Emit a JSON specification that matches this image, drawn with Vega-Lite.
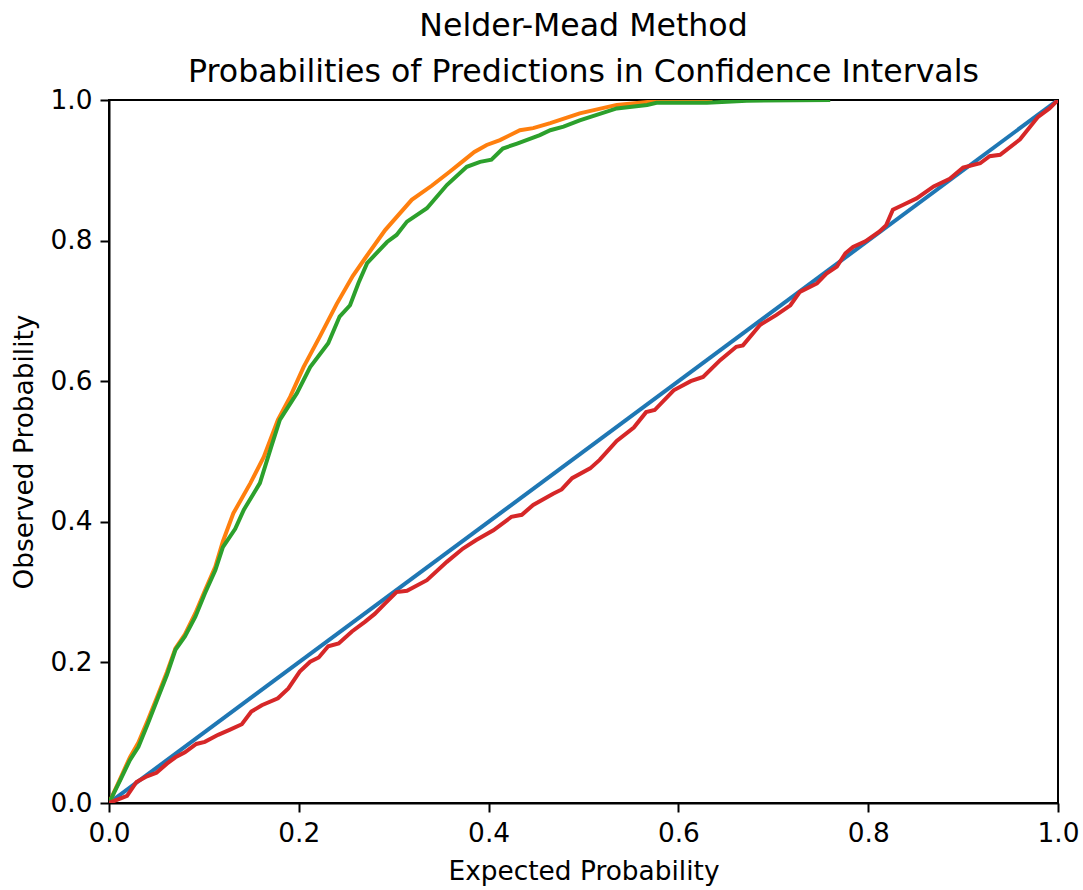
{
  "$schema": "https://vega.github.io/schema/vega-lite/v6.json",
  "autosize": {"type": "none"},
  "width": 949,
  "height": 703,
  "padding": {"left": 109, "top": 100, "right": 25, "bottom": 87},
  "background": "white",
  "config": {
    "font": "DejaVu Sans",
    "view": {"stroke": "black", "strokeWidth": 2},
    "axis": {
      "grid": false,
      "domainColor": "black",
      "domainWidth": 2,
      "tickColor": "black",
      "tickWidth": 2,
      "tickSize": 9,
      "labelPadding": 8,
      "labelFont": "DejaVu Sans",
      "labelFontSize": 26.4,
      "labelColor": "black",
      "labelFlush": false,
      "labelOverlap": false,
      "titleFont": "DejaVu Sans",
      "titleFontSize": 26.4,
      "titleFontWeight": "normal",
      "titleColor": "black"
    }
  },
  "title": {
    "text": ["Nelder-Mead Method", "Probabilities of Predictions in Confidence Intervals"],
    "font": "DejaVu Sans",
    "fontSize": 31.6,
    "fontWeight": "normal",
    "color": "black",
    "lineHeight": 46,
    "anchor": "middle",
    "baseline": "alphabetic",
    "offset": 18,
    "dy": 45
  },
  "datasets": {
    "blue": [{"x": 0, "y": 0}, {"x": 1, "y": 1}],
    "orange": [
      {"x": 0, "y": 0}, {"x": 0.012, "y": 0.035}, {"x": 0.022, "y": 0.065}, {"x": 0.031, "y": 0.086},
      {"x": 0.041, "y": 0.118}, {"x": 0.052, "y": 0.155}, {"x": 0.061, "y": 0.186}, {"x": 0.07, "y": 0.22},
      {"x": 0.08, "y": 0.24}, {"x": 0.091, "y": 0.27}, {"x": 0.101, "y": 0.302}, {"x": 0.112, "y": 0.336},
      {"x": 0.12, "y": 0.372}, {"x": 0.131, "y": 0.412}, {"x": 0.149, "y": 0.455}, {"x": 0.163, "y": 0.492},
      {"x": 0.178, "y": 0.545}, {"x": 0.191, "y": 0.578}, {"x": 0.205, "y": 0.62}, {"x": 0.222, "y": 0.663},
      {"x": 0.24, "y": 0.71}, {"x": 0.257, "y": 0.75}, {"x": 0.271, "y": 0.777}, {"x": 0.291, "y": 0.815},
      {"x": 0.319, "y": 0.858}, {"x": 0.34, "y": 0.878}, {"x": 0.359, "y": 0.898}, {"x": 0.372, "y": 0.912},
      {"x": 0.385, "y": 0.926}, {"x": 0.398, "y": 0.936}, {"x": 0.412, "y": 0.943}, {"x": 0.433, "y": 0.957},
      {"x": 0.447, "y": 0.96}, {"x": 0.465, "y": 0.967}, {"x": 0.496, "y": 0.981}, {"x": 0.535, "y": 0.993},
      {"x": 0.574, "y": 0.998}, {"x": 0.636, "y": 1.0}
    ],
    "green": [
      {"x": 0, "y": 0}, {"x": 0.012, "y": 0.033}, {"x": 0.022, "y": 0.061}, {"x": 0.031, "y": 0.08},
      {"x": 0.041, "y": 0.113}, {"x": 0.052, "y": 0.151}, {"x": 0.061, "y": 0.182}, {"x": 0.07, "y": 0.218},
      {"x": 0.08, "y": 0.237}, {"x": 0.091, "y": 0.265}, {"x": 0.101, "y": 0.298}, {"x": 0.112, "y": 0.331},
      {"x": 0.12, "y": 0.364}, {"x": 0.133, "y": 0.39}, {"x": 0.142, "y": 0.417}, {"x": 0.159, "y": 0.455},
      {"x": 0.171, "y": 0.507}, {"x": 0.18, "y": 0.545}, {"x": 0.198, "y": 0.583}, {"x": 0.212, "y": 0.62},
      {"x": 0.231, "y": 0.654}, {"x": 0.243, "y": 0.692}, {"x": 0.254, "y": 0.708}, {"x": 0.263, "y": 0.74},
      {"x": 0.272, "y": 0.768}, {"x": 0.293, "y": 0.798}, {"x": 0.303, "y": 0.808}, {"x": 0.314, "y": 0.827},
      {"x": 0.335, "y": 0.846}, {"x": 0.356, "y": 0.879}, {"x": 0.377, "y": 0.905}, {"x": 0.391, "y": 0.912},
      {"x": 0.403, "y": 0.915}, {"x": 0.415, "y": 0.931}, {"x": 0.43, "y": 0.938}, {"x": 0.454, "y": 0.95},
      {"x": 0.465, "y": 0.957}, {"x": 0.479, "y": 0.962}, {"x": 0.496, "y": 0.971}, {"x": 0.535, "y": 0.988},
      {"x": 0.567, "y": 0.993}, {"x": 0.577, "y": 0.996}, {"x": 0.63, "y": 0.996}, {"x": 0.672, "y": 0.999},
      {"x": 0.76, "y": 1.0}
    ],
    "red": [
      {"x": 0, "y": 0}, {"x": 0.019, "y": 0.01}, {"x": 0.029, "y": 0.03}, {"x": 0.04, "y": 0.038},
      {"x": 0.05, "y": 0.043}, {"x": 0.061, "y": 0.056}, {"x": 0.07, "y": 0.065}, {"x": 0.08, "y": 0.072},
      {"x": 0.092, "y": 0.084}, {"x": 0.101, "y": 0.087}, {"x": 0.115, "y": 0.097}, {"x": 0.127, "y": 0.104},
      {"x": 0.14, "y": 0.112}, {"x": 0.15, "y": 0.13}, {"x": 0.161, "y": 0.139}, {"x": 0.178, "y": 0.149},
      {"x": 0.189, "y": 0.163}, {"x": 0.201, "y": 0.187}, {"x": 0.212, "y": 0.201}, {"x": 0.221, "y": 0.207},
      {"x": 0.231, "y": 0.223}, {"x": 0.242, "y": 0.227}, {"x": 0.256, "y": 0.244}, {"x": 0.27, "y": 0.258},
      {"x": 0.28, "y": 0.269}, {"x": 0.291, "y": 0.284}, {"x": 0.303, "y": 0.3}, {"x": 0.314, "y": 0.302},
      {"x": 0.335, "y": 0.317}, {"x": 0.356, "y": 0.343}, {"x": 0.373, "y": 0.362}, {"x": 0.387, "y": 0.374},
      {"x": 0.405, "y": 0.388}, {"x": 0.424, "y": 0.407}, {"x": 0.435, "y": 0.41}, {"x": 0.447, "y": 0.424},
      {"x": 0.468, "y": 0.44}, {"x": 0.477, "y": 0.446}, {"x": 0.488, "y": 0.462}, {"x": 0.507, "y": 0.476},
      {"x": 0.517, "y": 0.488}, {"x": 0.535, "y": 0.515}, {"x": 0.553, "y": 0.534}, {"x": 0.566, "y": 0.556},
      {"x": 0.575, "y": 0.559}, {"x": 0.595, "y": 0.587}, {"x": 0.613, "y": 0.6}, {"x": 0.626, "y": 0.606},
      {"x": 0.644, "y": 0.63}, {"x": 0.661, "y": 0.649}, {"x": 0.668, "y": 0.651}, {"x": 0.686, "y": 0.68},
      {"x": 0.703, "y": 0.694}, {"x": 0.718, "y": 0.708}, {"x": 0.728, "y": 0.727}, {"x": 0.746, "y": 0.739},
      {"x": 0.756, "y": 0.753}, {"x": 0.767, "y": 0.763}, {"x": 0.776, "y": 0.782}, {"x": 0.784, "y": 0.791},
      {"x": 0.797, "y": 0.799}, {"x": 0.812, "y": 0.813}, {"x": 0.819, "y": 0.822}, {"x": 0.826, "y": 0.844},
      {"x": 0.837, "y": 0.851}, {"x": 0.851, "y": 0.86}, {"x": 0.869, "y": 0.877}, {"x": 0.886, "y": 0.888},
      {"x": 0.9, "y": 0.904}, {"x": 0.918, "y": 0.91}, {"x": 0.928, "y": 0.92}, {"x": 0.939, "y": 0.922},
      {"x": 0.96, "y": 0.944}, {"x": 0.979, "y": 0.976}, {"x": 0.991, "y": 0.988}, {"x": 1.0, "y": 1.0}
    ]
  },
  "encoding": {
    "x": {
      "field": "x", "type": "quantitative",
      "scale": {"domain": [0, 1], "nice": false, "zero": false},
      "axis": {"values": [0, 0.2, 0.4, 0.6, 0.8, 1.0], "format": ".1f", "title": "Expected Probability", "titlePadding": 12}
    },
    "y": {
      "field": "y", "type": "quantitative",
      "scale": {"domain": [0, 1], "nice": false, "zero": false},
      "axis": {"values": [0, 0.2, 0.4, 0.6, 0.8, 1.0], "format": ".1f", "title": "Observed Probability", "titlePadding": 12}
    }
  },
  "layer": [
    {"data": {"name": "blue"}, "mark": {"type": "line", "color": "#1f77b4", "strokeWidth": 4, "clip": true}},
    {"data": {"name": "orange"}, "mark": {"type": "line", "color": "#ff7f0e", "strokeWidth": 4, "clip": true}},
    {"data": {"name": "green"}, "mark": {"type": "line", "color": "#2ca02c", "strokeWidth": 4, "clip": true}},
    {"data": {"name": "red"}, "mark": {"type": "line", "color": "#d62728", "strokeWidth": 4, "clip": true}}
  ]
}
